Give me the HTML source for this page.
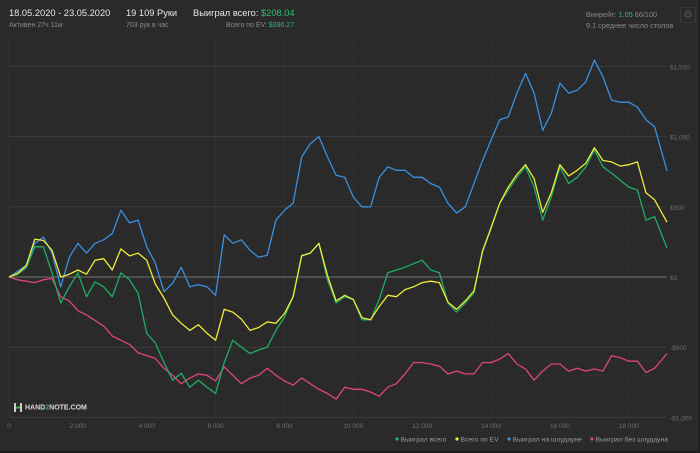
<!DOCTYPE html>
<html><head><meta charset="utf-8">
<style>
html,body{margin:0;padding:0;background:#1c1c1c;}
#wrap{position:relative;width:699px;height:451px;background:#2a2a2a;font-family:"Liberation Sans","Noto Sans CJK SC",sans-serif;overflow:hidden;}
.t{position:absolute;white-space:nowrap;}
.big{font-size:9.3px;color:#e8e8e8;}
.sm{font-size:7px;color:#8a8a8a;}
.g{color:#2fbf71;}
</style></head><body>
<div id="wrap">
<div class="t big" style="left:9px;top:8px">18.05.2020 - 23.05.2020</div>
<div class="t sm" style="left:9px;top:22px">Активен 27ч 11м</div>
<div class="t big" style="left:126px;top:8px">19 109 Руки</div>
<div class="t sm" style="left:126px;top:22px">703 рук в час</div>
<div class="t big" style="left:193px;top:8px">Выиграл всего: <span class="g">$208.04</span></div>
<div class="t sm" style="left:226px;top:22px">Всего по EV: <span class="g">$390.27</span></div>
<div class="t sm" style="left:586px;top:10px;font-size:7.3px">Винрейт: <span class="g">1.05</span> 66/100</div>
<div class="t sm" style="left:586px;top:21px;font-size:7.3px">9.1 среднее число столов</div>
<div class="t" style="left:680px;top:7px;width:14px;height:14px;border:1px solid #3a3a3a;border-radius:2px;color:#555;font-size:11px;text-align:center;line-height:14px">⚙</div>
<svg id="chart" width="699" height="451" style="position:absolute;left:0;top:0"></svg>
<div class="t" style="left:14px;top:403px;font-size:7px;font-weight:bold;color:#ddd"><span style="display:inline-block;width:8px;height:9px;border-left:2px solid #ccc;border-right:2px solid #ccc;margin-right:3px;vertical-align:middle;box-sizing:border-box;background:linear-gradient(170deg,transparent 40%,#3cb043 40%,#3cb043 60%,transparent 60%)"></span>HAND<span style="color:#3cb043">2</span>NOTE.COM</div>
</div>
<script>
const hands=[0,250,500,750,1000,1250,1500,1750,2000,2250,2500,2750,3000,3250,3500,3750,4000,4250,4500,4750,5000,5250,5500,5750,6000,6250,6500,6750,7000,7250,7500,7750,8000,8250,8500,8750,9000,9250,9500,9750,10000,10250,10500,10750,11000,11250,11500,11750,12000,12250,12500,12750,13000,13250,13500,13750,14000,14250,14500,14750,15000,15250,15500,15750,16000,16250,16500,16750,17000,17250,17500,17750,18000,18250,18500,18750,19109];
const totalWon=[0,20,65,215,215,30,-185,-70,30,-140,-35,-70,-140,30,-20,-115,-400,-470,-610,-735,-685,-785,-735,-785,-830,-610,-450,-500,-545,-520,-500,-380,-285,-140,155,170,240,-20,-185,-140,-160,-305,-305,-160,30,50,70,95,120,50,30,-185,-250,-185,-115,190,355,525,620,710,785,640,405,570,785,665,710,785,905,785,740,690,640,620,405,430,205];
const totalEV=[0,25,80,270,260,190,0,20,50,20,120,130,50,200,150,170,120,-50,-150,-270,-330,-380,-340,-400,-450,-230,-250,-300,-380,-360,-320,-330,-260,-140,150,170,240,10,-170,-130,-160,-290,-305,-210,-130,-140,-90,-70,-40,-30,-40,-180,-230,-170,-100,180,350,525,640,730,800,700,460,600,800,720,760,810,920,830,820,790,800,820,600,550,390];
const showdown=[0,40,85,240,285,170,-70,140,240,170,240,265,310,475,385,405,215,100,-105,-45,70,-70,-55,-70,-130,300,240,265,190,140,155,405,475,525,855,950,1000,855,725,710,570,500,500,710,785,760,760,710,710,665,640,525,455,500,665,830,975,1120,1140,1310,1450,1310,1045,1165,1380,1310,1330,1390,1545,1425,1260,1245,1245,1210,1120,1070,755];
const nonShowdown=[0,-20,-30,-40,-20,-10,-140,-170,-240,-270,-310,-350,-420,-450,-480,-540,-560,-580,-650,-700,-760,-720,-690,-700,-740,-640,-700,-760,-720,-700,-650,-700,-740,-770,-720,-760,-800,-830,-870,-785,-800,-800,-820,-850,-785,-760,-690,-610,-610,-620,-635,-690,-670,-690,-690,-610,-610,-585,-545,-620,-655,-735,-670,-620,-620,-670,-650,-670,-655,-670,-560,-575,-600,-600,-680,-650,-545];
const yTicks=[1500,1000,500,0,-500,-1000];
const yTickLabels=["$1,500","$1,000","$500","$0","-$500","-$1,000"];
const xTicks=[0,2000,4000,6000,8000,10000,12000,14000,16000,18000];
const xTickLabels=["0","2 000","4 000","6 000","8 000","10 000","12 000","14 000","16 000","18 000"];
const seriesNames=["Выиграл всего","Всего по EV","Выиграл на шоудауне","Выиграл без шоудауна"];

const NS="http://www.w3.org/2000/svg";
const svg=document.getElementById('chart');
const X0=9,X1=667,Y0=277,PPV=70.2/500;
const xs=h=>X0+h*(X1-X0)/19109;
const ys=v=>Y0-v*PPV;
function mk(tag,attrs){const e=document.createElementNS(NS,tag);for(const k in attrs)e.setAttribute(k,attrs[k]);svg.appendChild(e);return e;}
for(let v=-1000;v<=1700;v+=100){
  if(v%500===0)continue;
  const l=mk('line',{x1:X0,x2:X1,y1:ys(v),y2:ys(v),stroke:'#2f2f2f','stroke-width':1});
  
  
}
xTicks.forEach((h,i)=>{
  const l=mk('line',{x1:xs(h),x2:xs(h),y1:37,y2:417,stroke:'#313131','stroke-width':1});
  
  
  const t=mk('text',{x:xs(h),y:428,fill:'#6f6f6f','font-size':6.5,'text-anchor':'middle','font-family':'Liberation Sans, sans-serif'});
  t.textContent=xTickLabels[i];
  
  
});
yTicks.forEach((v,i)=>{
  const l=mk('line',{x1:X0,x2:X1,y1:ys(v),y2:ys(v),stroke:v===0?'#666':'#3c3c3c','stroke-width':v===0?1.2:1});
  
  
  const t=mk('text',{x:670,y:ys(v)+3,fill:'#6f6f6f','font-size':6.5,'font-family':'Liberation Sans, sans-serif'});
  t.textContent=yTickLabels[i];
  
  
});
const colors=['#1fae64','#f0ec3a','#3a8fe0','#e0457a'];
const data=[nonShowdown,showdown,totalWon,totalEV];
const dcol=[colors[3],colors[2],colors[0],colors[1]];
const dname=['line-without-showdown','line-showdown','line-total-won','line-total-ev'];
data.forEach((arr,k)=>{
  const pts=arr.map((v,i)=>xs(hands[i]).toFixed(1)+','+ys(v).toFixed(1)).join(' ');
  const p=mk('polyline',{points:pts,fill:'none',stroke:dcol[k],'stroke-width':1.3,'stroke-linejoin':'round'});
  
  
});
const legX=[397,457,509,592];
seriesNames.forEach((n,i)=>{
  const c=mk('circle',{cx:legX[i],cy:439,r:1.6,fill:colors[i]});
  
  
  const t=mk('text',{x:legX[i]+3.5,y:441.5,fill:'#9a9a9a','font-size':6.8,'font-family':'Liberation Sans, sans-serif'});
  t.textContent=n;
  
  
});
</script>
</body></html>
